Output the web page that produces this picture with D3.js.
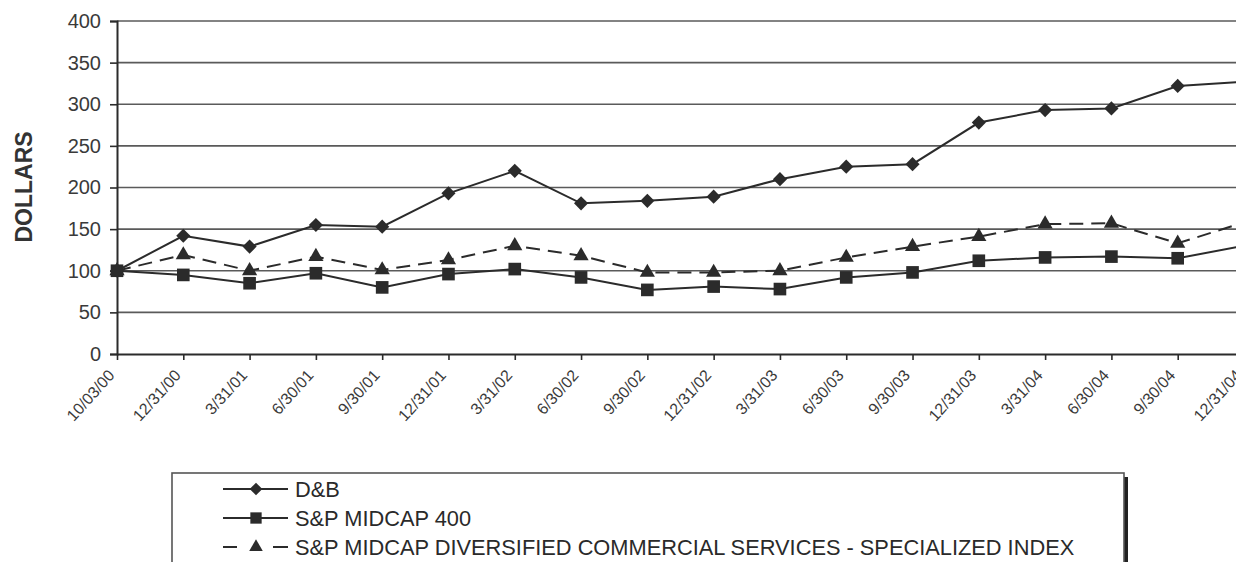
<!DOCTYPE html>
<html>
<head>
<meta charset="utf-8">
<script src="https://cdn.jsdelivr.net/npm/d3@7"></script>
<style>
  body { margin: 0; background: #fff; }
  svg { display: block; font-family: Arial, "Liberation Sans", sans-serif; }
</style>
</head>
<body>
<div id="chart"></div>
<script>
// quarter labels
var labels = ['10/03/00', '12/31/00', '3/31/01', '6/30/01', '9/30/01', '12/31/01', '3/31/02', '6/30/02',
  '9/30/02', '12/31/02', '3/31/03', '6/30/03', '9/30/03', '12/31/03', '3/31/04', '6/30/04', '9/30/04', '12/31/04'];

// series values (dollars)
var dnb = [100, 142, 129, 155, 153, 193, 220, 181, 184, 189, 210, 225, 228, 278, 293, 295, 322, 327];
var midcap = [100, 95, 85, 97, 80, 96, 102, 92, 77, 81, 78, 92, 98, 112, 116, 117, 115, 130];
var dcs = [100, 119, 100, 117, 101, 113, 130, 118, 98, 98, 100, 116, 129, 141, 156, 157, 133, 158];

var yTicks = [0, 50, 100, 150, 200, 250, 300, 350, 400];

var seriesNames = ['D&B', 'S&P MIDCAP 400', 'S&P MIDCAP DIVERSIFIED COMMERCIAL SERVICES - SPECIALIZED INDEX'];

var width = 1236, height = 562;
var ink = '#2b2b2b';

var svg = d3.select('#chart').append('svg')
  .attr('width', width)
  .attr('height', height);

var x = d3.scalePoint().domain(labels).range([117, 1244]);
var y = d3.scaleLinear().domain([0, 400]).range([354, 21]);

// gridlines
svg.append('g')
  .selectAll('line')
  .data(yTicks.slice(1))
  .enter()
  .append('line')
  .attr('x1', 117).attr('x2', width)
  .attr('y1', function (d) { return y(d); })
  .attr('y2', function (d) { return y(d); })
  .attr('stroke', '#5a5a5a')
  .attr('stroke-width', 1.6);

// y axis
var yAxis = svg.append('g')
  .attr('transform', 'translate(117,0)')
  .call(d3.axisLeft(y).tickValues(yTicks).tickSize(7).tickPadding(9));
yAxis.select('.domain').attr('stroke', ink).attr('stroke-width', 2);
yAxis.selectAll('.tick line').attr('stroke', ink).attr('stroke-width', 1.6);
yAxis.selectAll('.tick text')
  .attr('font-size', 20)
  .attr('fill', '#3a3a3a')
  .style('font-family', 'Arial, "Liberation Sans", sans-serif');

// x axis
var xAxis = svg.append('g')
  .attr('transform', 'translate(0,' + y(0) + ')')
  .call(d3.axisBottom(x).tickSize(6).tickSizeOuter(0));
xAxis.select('.domain').attr('stroke', ink).attr('stroke-width', 2);
xAxis.selectAll('.tick line').attr('stroke', ink).attr('stroke-width', 1.6);
xAxis.selectAll('.tick text')
  .attr('font-size', 16)
  .attr('fill', '#3a3a3a')
  .attr('text-anchor', 'end')
  .attr('dy', 0)
  .attr('y', 0)
  .attr('transform', 'translate(-2,22) rotate(-48)')
  .style('font-family', 'Arial, "Liberation Sans", sans-serif');

// axis title
svg.append('text')
  .attr('transform', 'translate(32,187) rotate(-90)')
  .attr('text-anchor', 'middle')
  .attr('font-size', 23)
  .attr('font-weight', 'bold')
  .attr('fill', '#333')
  .text('DOLLARS');

// lines
var line = d3.line()
  .x(function (d, i) { return x(labels[i]); })
  .y(function (d) { return y(d); });

var series = [
  { values: dcs, dash: '14,8', symbol: d3.symbolTriangle, size: 100, rot: 0 },
  { values: midcap, dash: null, symbol: d3.symbolSquare, size: 160, rot: 0 },
  { values: dnb, dash: null, symbol: d3.symbolSquare, size: 100, rot: 45 }
];

series.forEach(function (s) {
  svg.append('path')
    .datum(s.values)
    .attr('d', line)
    .attr('fill', 'none')
    .attr('stroke', ink)
    .attr('stroke-width', 2)
    .attr('stroke-dasharray', s.dash);

  svg.append('g')
    .selectAll('path')
    .data(s.values)
    .enter()
    .append('path')
    .attr('transform', function (d, i) {
      return 'translate(' + x(labels[i]) + ',' + y(d) + ') rotate(' + s.rot + ')';
    })
    .attr('d', d3.symbol().type(s.symbol).size(s.size))
    .attr('fill', ink);
});

// legend
var legend = svg.append('g');
legend.append('rect')
  .attr('x', 1124).attr('y', 477)
  .attr('width', 4).attr('height', 120)
  .attr('fill', '#222');
legend.append('rect')
  .attr('x', 172).attr('y', 473)
  .attr('width', 952).attr('height', 120)
  .attr('fill', '#fff')
  .attr('stroke', '#555')
  .attr('stroke-width', 1.6);

var legendSeries = [series[2], series[1], series[0]];
legendSeries.forEach(function (s, i) {
  var ly = 489 + i * 29;
  var g = legend.append('g').attr('transform', 'translate(0,' + ly + ')');
  if (s.dash) {
    g.append('line').attr('x1', 223).attr('x2', 237).attr('y1', 0).attr('y2', 0)
      .attr('stroke', ink).attr('stroke-width', 2);
    g.append('line').attr('x1', 273).attr('x2', 288).attr('y1', 0).attr('y2', 0)
      .attr('stroke', ink).attr('stroke-width', 2);
  } else {
    g.append('line').attr('x1', 223).attr('x2', 288).attr('y1', 0).attr('y2', 0)
      .attr('stroke', ink).attr('stroke-width', 2);
  }
  g.append('path')
    .attr('transform', 'translate(256,0) rotate(' + s.rot + ')')
    .attr('d', d3.symbol().type(s.symbol).size(s.size * 0.8))
    .attr('fill', ink);
  g.append('text')
    .attr('x', 295)
    .attr('y', 7.5)
    .attr('font-size', 21.8)
    .attr('fill', '#2a2a2a')
    .text(seriesNames[i]);
});
</script>
</body>
</html>
